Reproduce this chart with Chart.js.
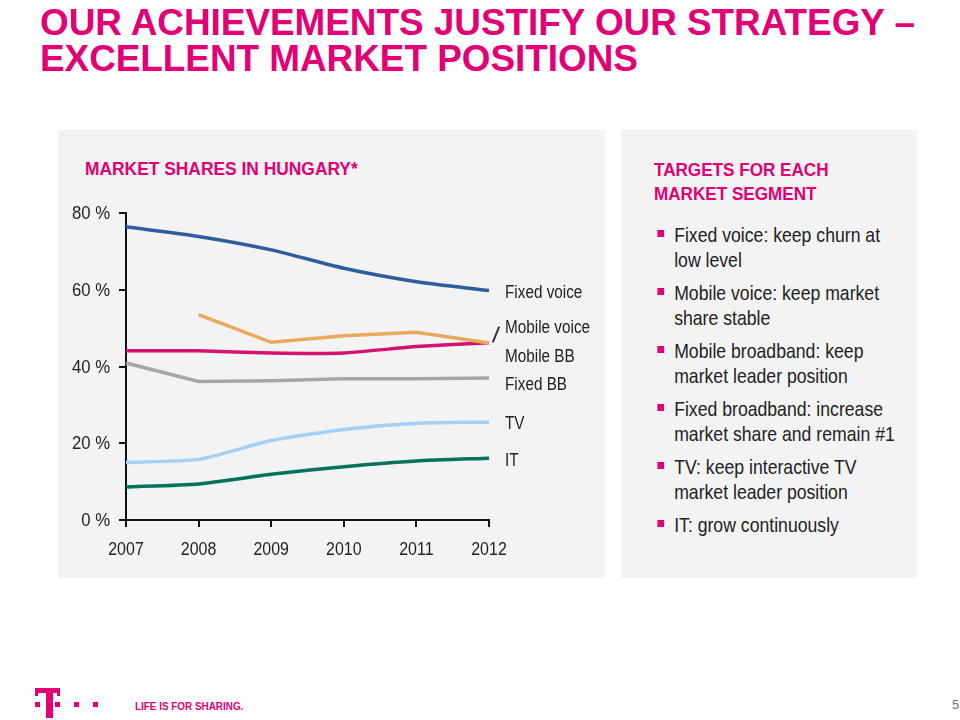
<!DOCTYPE html>
<html>
<head>
<meta charset="utf-8">
<script src="https://cdn.jsdelivr.net/npm/chart.js@4.4.1/dist/chart.umd.min.js"></script>
<style>
  html, body { margin:0; padding:0; background:#fff; }
  body { width:960px; height:720px; position:relative; overflow:hidden;
         font-family:"Liberation Sans","Arial",sans-serif; }
  #title { position:absolute; left:40px; top:5px; font-weight:bold; font-size:37px; line-height:36px;
           color:#e20074; white-space:nowrap; transform-origin:left top; }
  .panel { position:absolute; background:#f3f3f3; }
  #leftPanel { left:58px; top:130px; width:547px; height:448px; }
  #rightPanel { left:621px; top:130px; width:296px; height:448px; }
  #chartHead { position:absolute; left:85px; top:158px; font-weight:bold; font-size:19px; color:#e20074; white-space:nowrap;
               transform:scaleX(0.915); transform-origin:left top; }
  #rightHead { position:absolute; left:654px; top:158px; font-weight:bold; font-size:19px; line-height:24px; color:#e20074;
               white-space:nowrap; transform:scaleX(0.9); transform-origin:left top; }
  #chartBox { position:absolute; left:58px; top:130px; width:547px; height:448px; }
  .slabel { position:absolute; left:505px; font-size:18px; color:#222; white-space:nowrap;
            transform:translateY(-50%) scaleX(0.85); transform-origin:left center; }
  ul#targets { position:absolute; left:654px; top:222px; margin:0; padding:0; list-style:none; width:296px;
               transform:scaleX(0.84); transform-origin:left top; }
  ul#targets li { position:relative; padding-left:24px; font-size:21px; line-height:25px; color:#222; margin-bottom:8px; }
  ul#targets li::before { content:""; position:absolute; left:4px; top:8px; width:8px; height:7px; background:#e20074; }
  #slash { position:absolute; left:495px; top:326px; width:1.5px; height:17px; background:#333; transform:rotate(22deg); }
  .sq { position:absolute; background:#e20074; }
  #tagline { position:absolute; left:135px; top:700px; font-weight:bold; font-size:11px; color:#e20074; white-space:nowrap;
             transform:scaleX(0.9); transform-origin:left top; }
  #pnum { position:absolute; left:952px; top:697px; font-size:13px; color:#777; }
</style>
</head>
<body>
<div id="title"><span id="t1">OUR ACHIEVEMENTS JUSTIFY OUR STRATEGY –</span><br>EXCELLENT MARKET POSITIONS</div>
<div class="panel" id="leftPanel"></div>
<div class="panel" id="rightPanel"></div>
<div id="chartHead">MARKET SHARES IN HUNGARY*</div>
<div id="chartBox"><canvas id="c" width="547" height="448"></canvas></div>
<div class="slabel" style="top:292px">Fixed voice</div>
<div class="slabel" style="top:327px">Mobile voice</div>
<div class="slabel" style="top:356px">Mobile BB</div>
<div class="slabel" style="top:384px">Fixed BB</div>
<div class="slabel" style="top:423px">TV</div>
<div class="slabel" style="top:460px">IT</div>
<div id="slash"></div>
<div id="rightHead">TARGETS FOR EACH<br>MARKET SEGMENT</div>
<ul id="targets">
  <li>Fixed voice: keep churn at low level</li>
  <li>Mobile voice: keep market share stable</li>
  <li>Mobile broadband: keep market leader position</li>
  <li>Fixed broadband: increase market share and remain #1</li>
  <li>TV: keep interactive TV market leader position</li>
  <li>IT: grow continuously</li>
</ul>
<!-- T logo -->
<div class="sq" style="left:35px;top:688px;width:25px;height:5px"></div>
<div class="sq" style="left:35px;top:688px;width:3px;height:8px"></div>
<div class="sq" style="left:57px;top:688px;width:3px;height:8px"></div>
<div class="sq" style="left:46px;top:688px;width:7px;height:30px"></div>
<div class="sq" style="left:35px;top:702px;width:5px;height:5px"></div>
<div class="sq" style="left:55px;top:702px;width:5px;height:5px"></div>
<div class="sq" style="left:74px;top:702px;width:5px;height:5px"></div>
<div class="sq" style="left:93px;top:702px;width:5px;height:5px"></div>
<div id="tagline">LIFE IS FOR SHARING.</div>
<div id="pnum">5</div>
<script>
// fit the title's first line to the reference width
(function(){
  const t1 = document.getElementById('t1');
  const w = t1.getBoundingClientRect().width;
  document.getElementById('title').style.transform = 'scaleX(' + (875 / w) + ')';
})();

const years = ["2007","2008","2009","2010","2011","2012"];
const fixedVoice  = [76.4, 73.9, 70.4, 65.6, 62.1, 59.8];
const mobileVoice = [null, 53.5, 46.3, 48.0, 48.9, 46.1];
const mobileBB    = [44.1, 44.1, 43.5, 43.5, 45.2, 46.2];
const fixedBB     = [40.9, 36.1, 36.3, 36.8, 36.8, 37.0];
const tv          = [15.0, 15.8, 20.7, 23.6, 25.2, 25.5];
const it          = [8.6, 9.4, 11.9, 13.9, 15.4, 16.1];
const yTicks = [0, 20, 40, 60, 80];

const FONT = "'Liberation Sans', Arial, sans-serif";
const NARROW = 0.84;
function ds(label, data, color, tension) {
  return { label, data, borderColor: color, backgroundColor: color, borderWidth: 3.5,
           pointRadius: 0, tension: tension, fill: false, spanGaps: false, borderCapStyle: 'butt' };
}
// draws tick labels in a condensed form, positioned by the chart's own scales
const narrowTicks = {
  id: 'narrowTicks',
  afterDraw(chart) {
    const ctx = chart.ctx;
    const xs = chart.scales.x, ys = chart.scales.y;
    ctx.save();
    ctx.fillStyle = '#222';
    ctx.font = '19px ' + FONT;
    ctx.textBaseline = 'middle';
    ctx.textAlign = 'center';
    xs.ticks.forEach((t, i) => {
      const px = xs.getPixelForTick(i);
      ctx.save();
      ctx.translate(px, xs.top + 30);
      ctx.scale(NARROW, 1);
      ctx.fillText(xs.getLabelForValue(t.value), 0, 0);
      ctx.restore();
    });
    ctx.textAlign = 'right';
    ys.ticks.forEach((t) => {
      const py = ys.getPixelForValue(t.value);
      ctx.save();
      ctx.translate(ys.right - 16, py + 1);
      ctx.scale(0.88, 1);
      ctx.fillText(t.value + ' %', 0, 0);
      ctx.restore();
    });
    ctx.restore();
  }
};
new Chart(document.getElementById('c'), {
  type: 'line',
  data: {
    labels: years,
    datasets: [
      ds('Fixed BB', fixedBB, '#a6a6a6', 0),
      ds('Mobile voice', mobileVoice, '#e9a95b', 0),
      ds('Mobile BB', mobileBB, '#d5126f', 0.15),
      ds('TV', tv, '#a3d0f5', 0.2),
      ds('IT', it, '#00735f', 0.2),
      ds('Fixed voice', fixedVoice, '#2c5f9e', 0.25)
    ]
  },
  plugins: [narrowTicks],
  options: {
    responsive: false,
    animation: false,
    layout: { padding: { top: 83, right: 116, left: 0, bottom: 0 } },
    plugins: { legend: { display: false }, tooltip: { enabled: false } },
    scales: {
      x: {
        offset: false,
        grid: { drawOnChartArea: false, drawTicks: true, tickLength: 7, color: '#111', lineWidth: 2 },
        border: { display: true, color: '#111', width: 2 },
        ticks: { display: false },
        afterFit: s => { s.height = 58; }
      },
      y: {
        min: 0, max: 80,
        afterBuildTicks: s => { s.ticks = yTicks.map(v => ({ value: v })); },
        grid: { drawOnChartArea: false, drawTicks: true, tickLength: 7, color: '#111', lineWidth: 2 },
        border: { display: true, color: '#111', width: 2 },
        ticks: { display: false },
        afterFit: s => { s.width = 68; }
      }
    }
  }
});
</script>
</body>
</html>
